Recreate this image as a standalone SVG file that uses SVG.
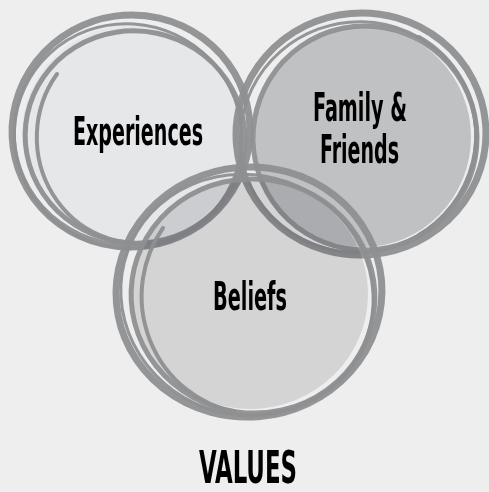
<svg xmlns="http://www.w3.org/2000/svg" width="489" height="492" viewBox="0 0 489 492">
<style>
.ring{fill:none;stroke:#8e8f91;stroke-linecap:round;opacity:0.95}
.t{font-family:"Liberation Sans Narrow","DejaVu Sans Condensed","Liberation Sans",sans-serif;font-weight:bold;fill:#000;font-size:39px}
</style>
<rect width="489" height="492" fill="#eeeeee"/>
<g id="experiences">
<ellipse cx="132" cy="134" rx="110" ry="109" fill="#e6e7e9"/>
<ellipse class="ring" cx="131" cy="131" rx="119" ry="116" transform="rotate(-8 131 131)" stroke-width="7"/>
<ellipse class="ring" cx="135" cy="137" rx="110" ry="106" transform="rotate(12 135 137)" stroke-width="5"/>
<ellipse class="ring" cx="128" cy="136" rx="114" ry="112" transform="rotate(25 128 136)" stroke-width="3"/>
<path class="ring" d="M57 74 A102 106 0 0 0 160 241" stroke-width="4"/>
<text class="t" x="73" y="145" textLength="130" lengthAdjust="spacingAndGlyphs">Experiences</text>
</g>
<g id="family-friends">
<ellipse cx="363" cy="137" rx="108" ry="110" fill="#c0c1c3"/>
<ellipse class="ring" cx="361" cy="134" rx="125" ry="121" transform="rotate(-5 361 134)" stroke-width="7"/>
<ellipse class="ring" cx="365" cy="138" rx="112" ry="112" transform="rotate(10 365 138)" stroke-width="5"/>
<ellipse class="ring" cx="358" cy="137" rx="118" ry="115" transform="rotate(-20 358 137)" stroke-width="3"/>
<path class="ring" d="M419 37 A114 114 0 0 1 419 235" stroke-width="4"/>
<text class="t" x="313" y="121" textLength="94" lengthAdjust="spacingAndGlyphs">Family &amp;</text>
<text class="t" x="320" y="163" textLength="79" lengthAdjust="spacingAndGlyphs">Friends</text>
</g>
<g id="beliefs">
<ellipse cx="250" cy="294" rx="118" ry="115" fill="#e3e3e5" style="mix-blend-mode:multiply"/>
<ellipse class="ring" cx="249" cy="292" rx="133" ry="125" transform="rotate(-5 249 292)" stroke-width="7"/>
<ellipse class="ring" cx="253" cy="296" rx="122" ry="117" transform="rotate(8 253 296)" stroke-width="5"/>
<ellipse class="ring" cx="247" cy="295" rx="127" ry="120" transform="rotate(20 247 295)" stroke-width="3"/>
<path class="ring" d="M163 228 A116 118 0 0 0 235 412" stroke-width="4"/>
<text class="t" x="213" y="310" textLength="74" lengthAdjust="spacingAndGlyphs">Beliefs</text>
</g>
<text class="t" x="199" y="483" textLength="98" lengthAdjust="spacingAndGlyphs" style="font-size:44px">VALUES</text>
</svg>
